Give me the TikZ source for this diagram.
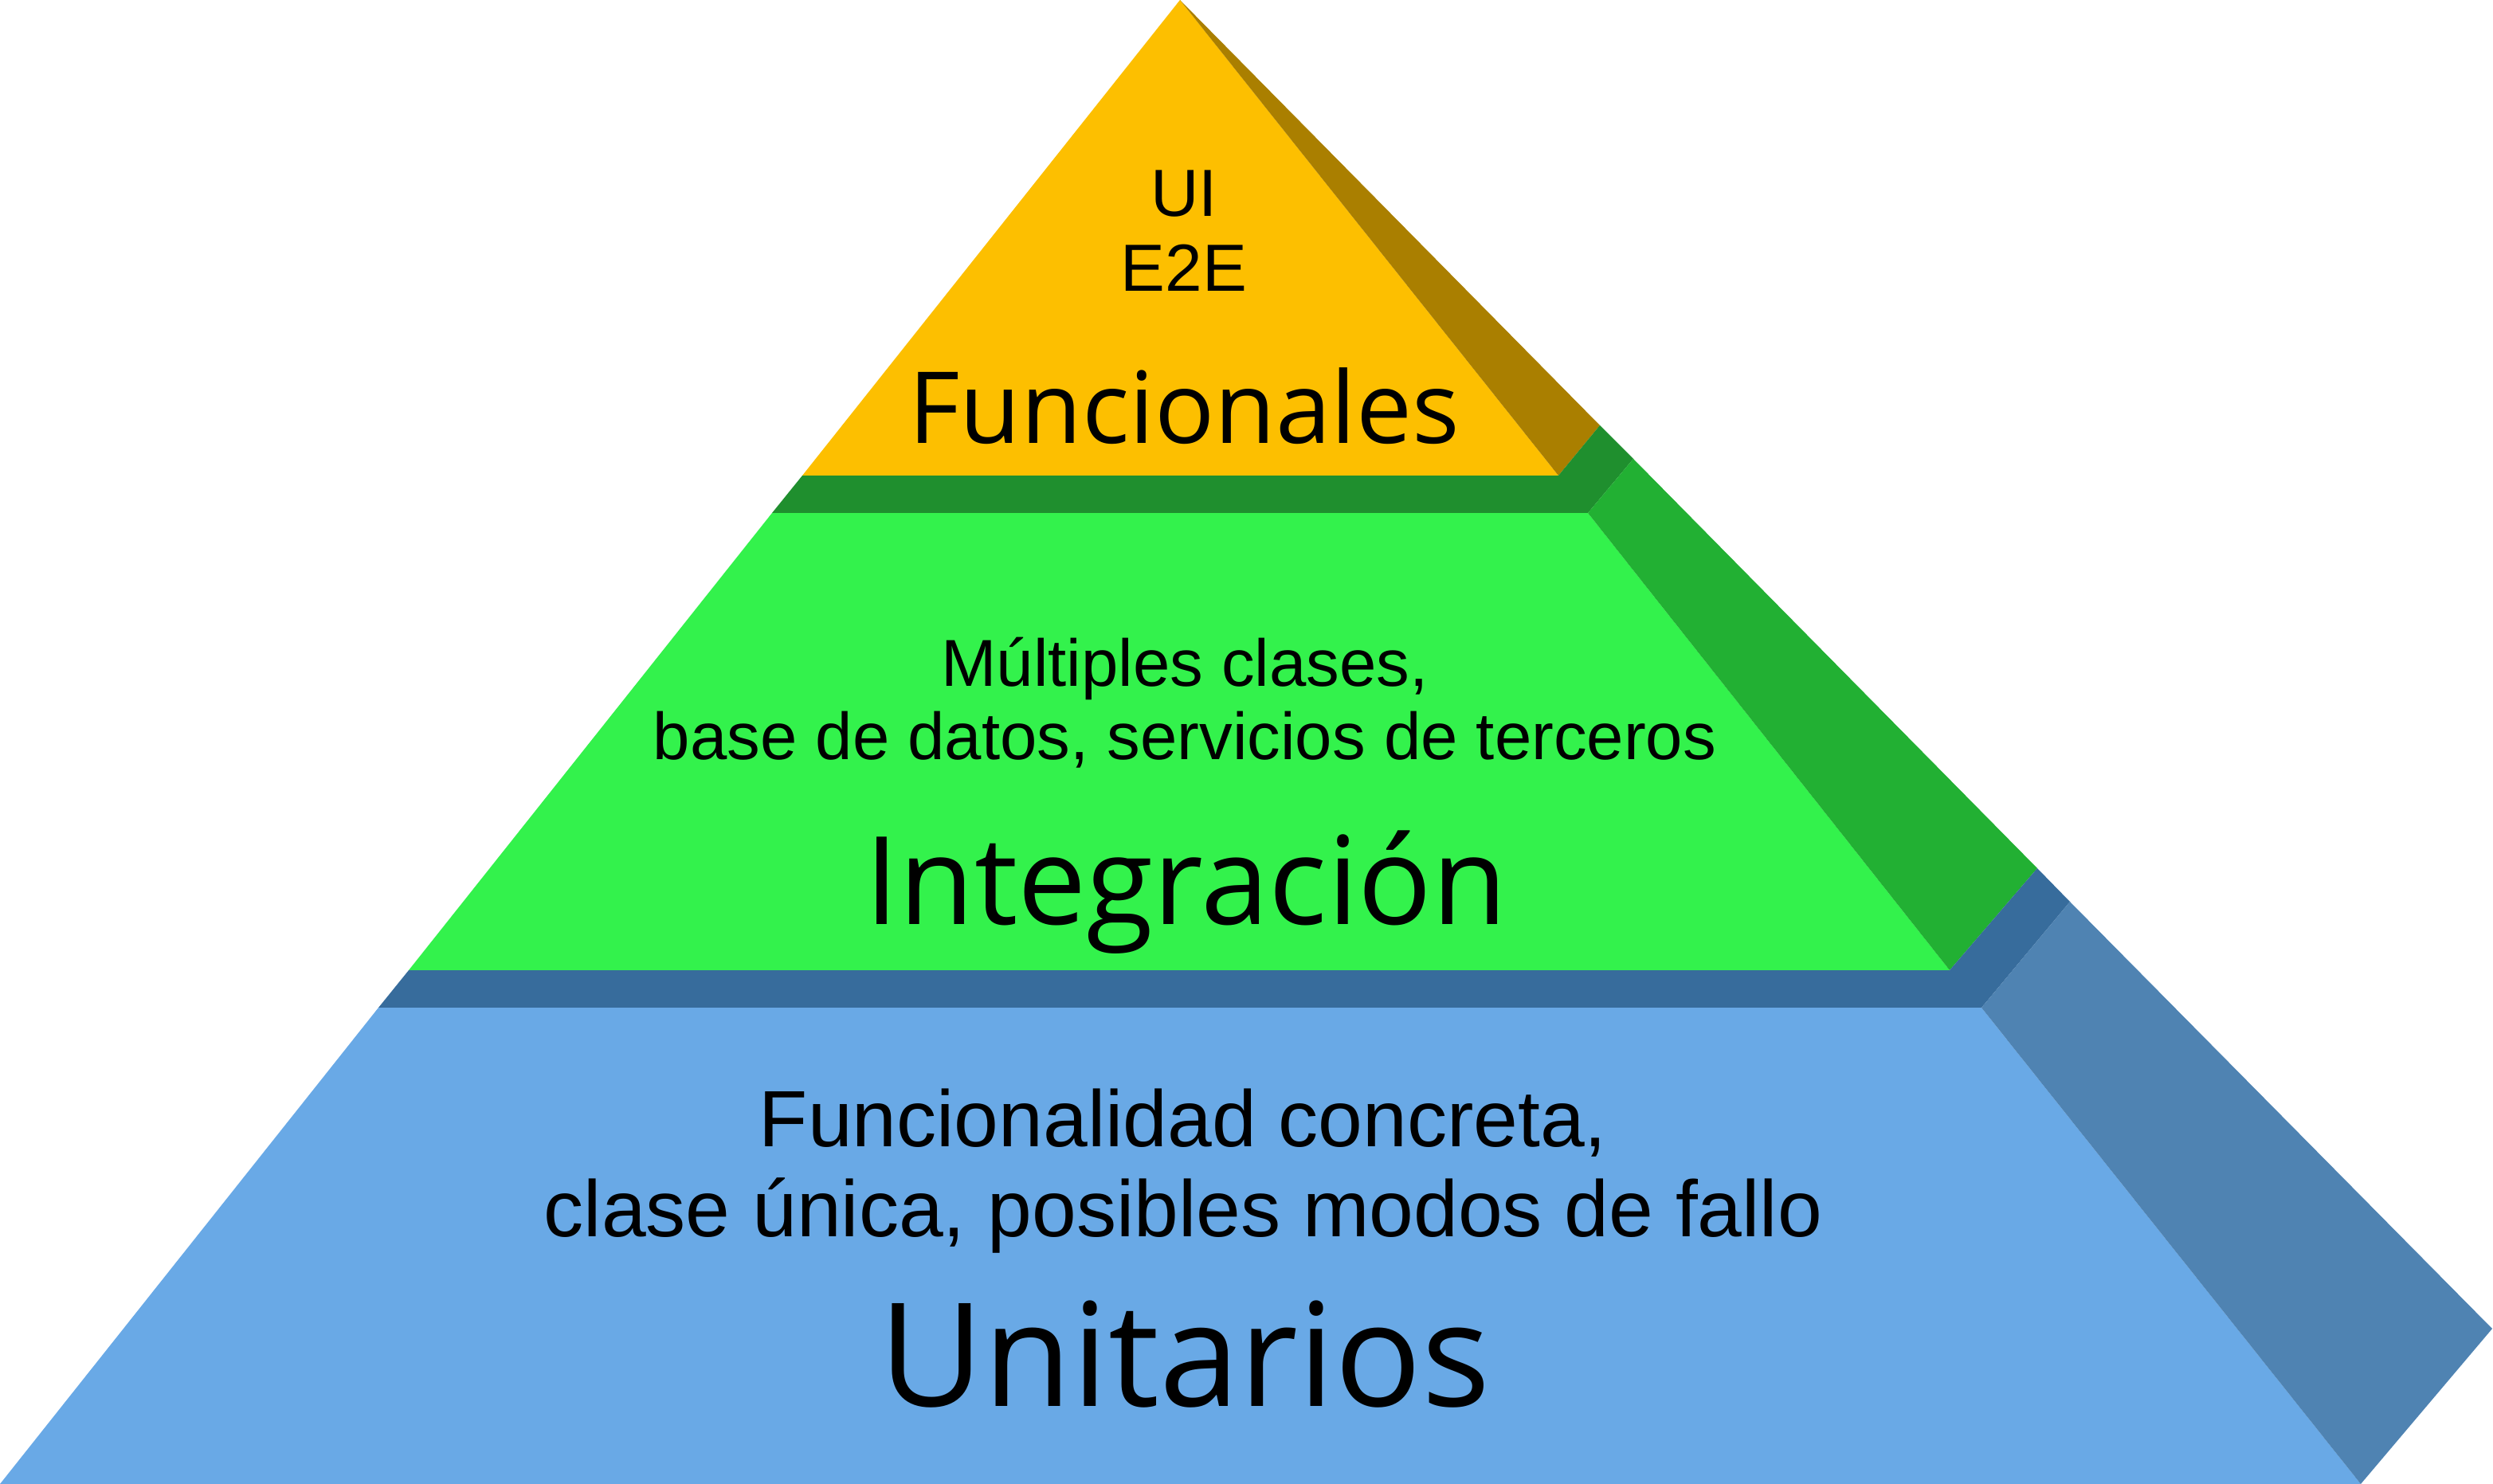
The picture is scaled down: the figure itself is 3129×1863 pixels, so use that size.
\documentclass[tikz,border=0pt]{standalone}
\usepackage{fontspec}
\setmainfont{Liberation Sans}
\newfontfamily\titlefont{Open Sans}
\definecolor{cYellow}{HTML}{FDBF00}
\definecolor{cOlive}{HTML}{AA7F00}
\definecolor{cGreenTop}{HTML}{1F8F2E}
\definecolor{cGreen}{HTML}{33F24C}
\definecolor{cGreenSide}{HTML}{22B033}
\definecolor{cBlueTop}{HTML}{376C9C}
\definecolor{cBlue}{HTML}{69A9E6}
\definecolor{cBlueSide}{HTML}{4F83B2}
\tikzset{
  small/.style={anchor=base, inner sep=0pt, font=\fontsize{#1}{#1}\selectfont},
  title/.style={anchor=base, inner sep=0pt, font=\titlefont\fontsize{#1}{#1}\selectfont}
}
\begin{document}
\begin{tikzpicture}[x=0.01cm,y=-0.01cm]
\useasboundingbox (0,0) rectangle (3129,1863);
% top tier
\fill[cYellow] (1481,0) -- (1007,597) -- (1956,597) -- cycle;
\fill[cOlive] (1481,0) -- (1956,597) -- (2008,534) -- cycle;
% middle tier
\fill[cGreenTop] (1007,597) -- (1956,597) -- (2008,534) -- (2050,576) -- (1993,644) -- (969,644) -- cycle;
\fill[cGreen] (969,644) -- (1993,644) -- (2447,1218) -- (513,1218) -- cycle;
\fill[cGreenSide] (1993,644) -- (2050,576) -- (2557,1090) -- (2447,1218) -- cycle;
% bottom tier
\fill[cBlueTop] (513,1218) -- (2447,1218) -- (2557,1090) -- (2598,1132) -- (2487,1265) -- (475,1265) -- cycle;
\fill[cBlue] (475,1265) -- (2487,1265) -- (2963,1863) -- (0,1863) -- cycle;
\fill[cBlueSide] (2487,1265) -- (2598,1132) -- (3128,1668) -- (2963,1863) -- cycle;
% texts
\node[small=23.8] (ui) at (1486,271) {UI};
\node[small=23.8] (e2e) at (1486,365) {E2E};
\node[title=35.5] (funcionales) at (1486,556) {Funcionales};
\node[small=23.7] (mult1) at (1487,861) {Múltiples clases,};
\node[small=23.7] (mult2) at (1487,953) {base de datos, servicios de terceros};
\node[title=43.7] (integracion) at (1489,1160) {Integración};
\node[small=28.5] (func1) at (1485,1439) {Funcionalidad concreta,};
\node[small=28.5] (func2) at (1485,1552) {clase única, posibles modos de fallo};
\node[title=51.4] (unitarios) at (1487,1765) {Unitarios};
\end{tikzpicture}
\end{document}
